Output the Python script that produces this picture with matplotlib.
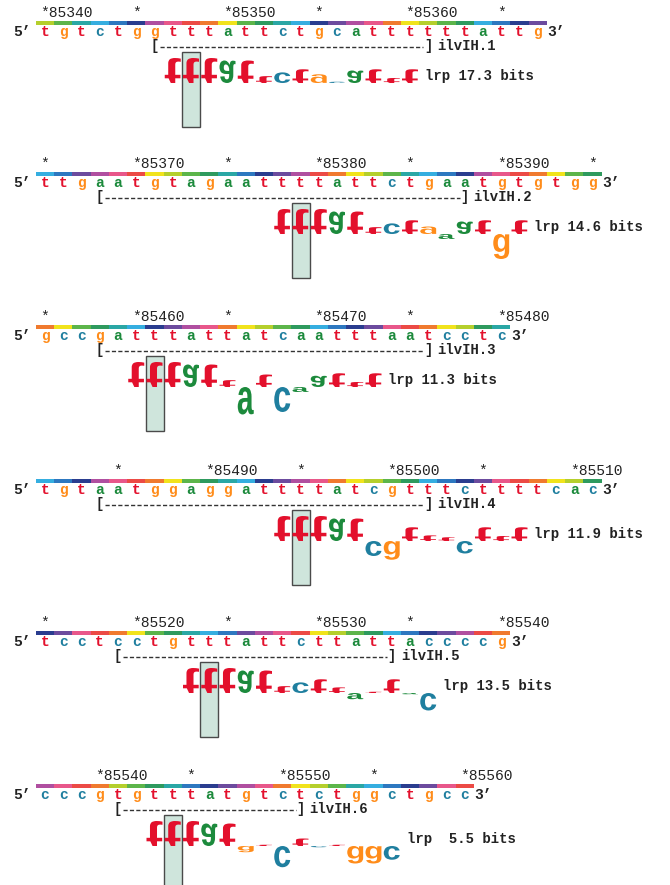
import numpy as np
import matplotlib.pyplot as plt
from matplotlib.textpath import TextPath
from matplotlib.patches import PathPatch, Rectangle
from matplotlib.font_manager import FontProperties
from matplotlib.transforms import Affine2D

# Secuencias alrededor de cada sitio lrp de ilvIH
seqs = ["tgtctggtttattctgcattttttattg",
        "ttgaatgtagaattttattctgaatgtgtgg",
        "gccgatttattatcaatttaatcctc",
        "tgtaatggaggattttatcgtttcttttcac",
        "tcctcctgtttattcttattaccccg",
        "cccgtgtttatgtctctggctgcc"]
first_pos = [85340, 85365, 85455, 85481, 85515, 85537]
yellow_at = [9.2, 6.0, 0.2, 6.2, 4.3, 3.1]   # fase de la barra de giro helicoidal
site_names = ["ilvIH.1", "ilvIH.2", "ilvIH.3", "ilvIH.4", "ilvIH.5", "ilvIH.6"]
site_from = [6, 3, 3, 3, 4, 4]
site_to = [21, 23, 21, 21, 19, 14]
walker_start = [7, 13, 5, 13, 8, 6]
ri_total = [17.3, 14.6, 11.3, 11.9, 13.5, 5.5]

# Contribución de cada base (bits) en los caminantes
w1 = [2.0, 2.0, 2.0, 1.8, 1.8, 0.55, 0.85, 1.1, 0.7, 0.1, 1.0, 1.1, 0.4, 1.1]
w2 = [2.0, 2.0, 2.0, 1.8, 1.8, 0.55, 0.85, 1.1, 0.6, -0.4, 1.0, 1.1, -2.0, 1.1]
w3 = [2.0, 2.0, 2.0, 1.8, 1.8, 0.55, -2.2, 1.0, -2.0, -0.4, 0.9, 1.1, 0.4, 1.1]
w4 = [2.0, 2.0, 2.0, 1.8, 1.8, -1.2, -1.5, 1.1, 0.45, 0.3, -1.0, 1.1, 0.4, 1.1]
w5 = [2.0, 2.0, 2.0, 1.8, 1.8, 0.55, 0.85, 1.1, 0.45, -0.5, 0.1, 1.1, -0.1, -1.4]
w6 = [2.0, 2.0, 2.0, 1.8, 1.8, -0.5, 0.1, -1.7, 0.6, -0.1, 0.1, -1.4, -1.4, -1.1]
walkers = [w1, w2, w3, w4, w5, w6]

base_color = {'a': '#1c8a3c', 'c': '#1f7f9f', 'g': '#ff8c1a', 't': '#e3102c'}
helix_colors = ['#f1e31c', '#b5cf2c', '#5cb54a', '#2e9a5e', '#2aa7a5', '#35aee0',
                '#2d78c0', '#2a3d8f', '#6c4b9e', '#b04fa0', '#e8578a', '#ec4a45',
                '#f07a2e']

# Maquetación (píxeles)
X0, DX = 45, 18.25
PANEL_Y = [13, 164, 317, 471, 623, 776]
PX_PER_BIT = 12.5

mono = FontProperties(family='Liberation Mono')
mono_b = FontProperties(family='Liberation Mono', weight='bold')
walker_font = FontProperties(family='Liberation Sans', weight='bold')

fig = plt.figure(figsize=(6.7, 8.85), dpi=100)
ax = fig.add_axes([0, 0, 1, 1])
ax.set_xlim(0, 670)
ax.set_ylim(885, 0)
ax.axis('off')


def xpos(i):
    return X0 + i * DX


def draw_letter(ch, xc, base, h, w, color):
    tp = TextPath((0, 0), ch, size=1, prop=walker_font)
    bb = tp.get_extents()
    hp = abs(h) * PX_PER_BIT
    if h > 0:
        tr = (Affine2D().translate(-bb.x0 - bb.width / 2, -bb.y0)
              .scale(w / bb.width, hp / bb.height)
              .translate(xc, base - hp))
    else:
        tr = (Affine2D().translate(-bb.x0 - bb.width / 2, -bb.y0)
              .scale(w / bb.width, -hp / bb.height)
              .translate(xc, base + hp))
    ax.add_patch(PathPatch(tr.transform_path(tp), facecolor=color,
                           edgecolor='none', zorder=4))


charw = 0.6 * 10.5 / 72 * 100

for p, seq in enumerate(seqs):
    y0 = PANEL_Y[p]
    n = len(seq)
    # números y estrellas
    for i in range(n):
        pos = first_pos[p] + i
        if pos % 10 == 0:
            ax.text(xpos(i) - charw / 2, y0, f"*{pos}", fontproperties=mono,
                    fontsize=10.5, color='#222222', ha='left', va='center')
        elif pos % 5 == 0:
            ax.text(xpos(i), y0, "*", fontproperties=mono, fontsize=10.5,
                    color='#222222', ha='center', va='center')
    # barra de colores (giro de la hélice)
    for i in range(n):
        ph = ((i - yellow_at[p]) / 10.6) % 1.0
        col = helix_colors[int(ph * len(helix_colors)) % len(helix_colors)]
        ax.add_patch(Rectangle((xpos(i) - DX / 2, y0 + 8), DX, 4,
                               facecolor=col, edgecolor='none'))
    # secuencia
    ax.text(xpos(0) - 14, y0 + 19, "5’", fontproperties=mono_b, fontsize=10.5,
            color='#222222', ha='right', va='center')
    for i, b in enumerate(seq):
        ax.text(xpos(i), y0 + 19, b, fontproperties=mono_b, fontsize=10.5,
                color=base_color[b], ha='center', va='center')
    ax.text(xpos(n - 1) + 10, y0 + 19, "3’", fontproperties=mono_b,
            fontsize=10.5, color='#222222', ha='left', va='center')
    # corchete del sitio
    xa, xb = xpos(site_from[p]), xpos(site_to[p])
    yb = y0 + 33
    ax.text(xa, yb, "[", fontproperties=mono_b, fontsize=10, color='#222222',
            ha='center', va='center')
    ax.text(xb, yb, "]", fontproperties=mono_b, fontsize=10, color='#222222',
            ha='center', va='center')
    ax.plot([xa + 5, xb - 5], [yb + 0.5, yb + 0.5], color='#333333', lw=1,
            linestyle=(0, (3, 1.6)))
    ax.text(xb + 9, yb, site_names[p], fontproperties=mono_b, fontsize=10,
            color='#222222', ha='left', va='center')
    # caja de la coordenada cero
    s = walker_start[p]
    ax.add_patch(Rectangle((xpos(s + 1) - 9, y0 + 39), 18, 75,
                           facecolor='#cfe5dc', edgecolor='#4a4a4a', lw=1,
                           zorder=3))
    # caminante
    base = y0 + 70
    for k, h in enumerate(walkers[p]):
        b = seq[s + k]
        draw_letter(b, xpos(s + k), base, h, 16, base_color[b])
    last = xpos(s + len(walkers[p]) - 1)
    ri = f"{ri_total[p]:4.1f}"
    ax.text(last + 15, y0 + 63, f"lrp {ri} bits", fontproperties=mono_b,
            fontsize=10, color='#222222', ha='left', va='center')

fig.savefig("out.png", dpi=100, facecolor='white')
